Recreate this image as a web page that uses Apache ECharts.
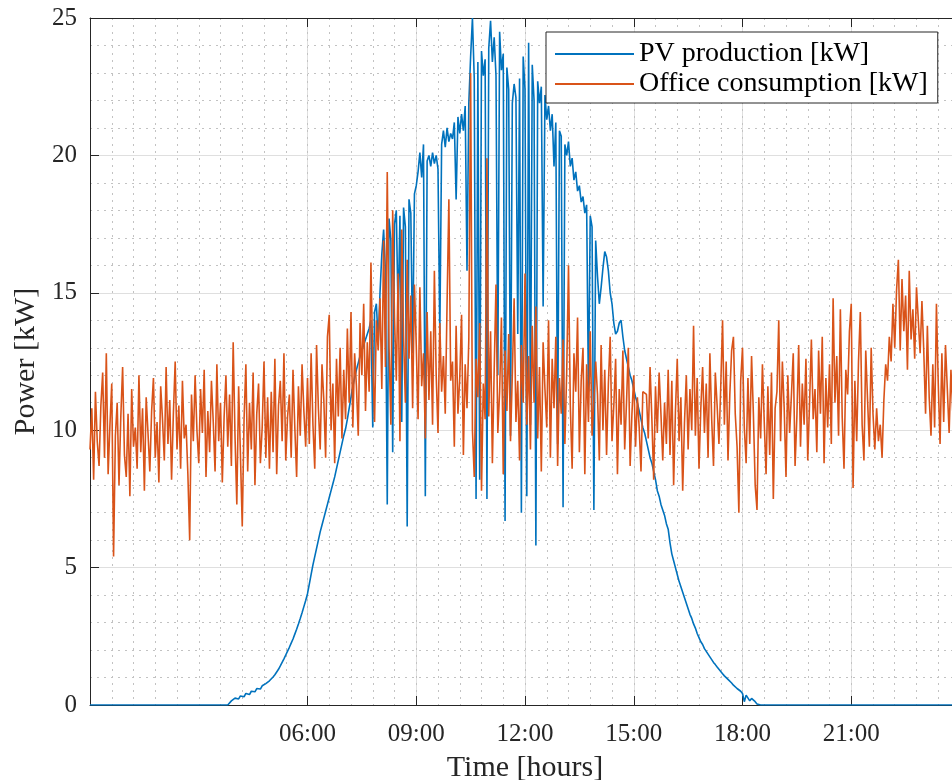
<!DOCTYPE html>
<html><head><meta charset="utf-8">
<script src="https://cdn.jsdelivr.net/npm/echarts@6/dist/echarts.min.js"></script>
<style>html,body{margin:0;padding:0;background:#fff}#c{width:952px;height:780px}</style>
</head><body><div id="c"></div>
<script>
// sampling step of both series (minutes from 00:00)
const stepMinutes = 3;

// PV production [kW], one value per 3 minutes, 00:00 .. 23:57 (20 values per hour row)
const pvProduction = [
  0,0,0,0,0,0,0,0,0,0,0,0,0,0,0,0,0,0,0,0,
  0,0,0,0,0,0,0,0,0,0,0,0,0,0,0,0,0,0,0,0,
  0,0,0,0,0,0,0,0,0,0,0,0,0,0,0,0,0,0,0,0,
  0,0,0,0,0,0,0,0,0,0,0,0,0,0,0,0,0,0,0.15,0.2,
  0.25,0.28,0.22,0.33,0.36,0.3,0.42,0.45,0.38,0.5,0.55,0.48,0.6,0.64,0.58,0.7,0.74,0.78,0.82,0.88,
  0.95,1.02,1.1,1.2,1.3,1.42,1.55,1.68,1.82,1.96,2.1,2.25,2.4,2.58,2.76,2.95,3.15,3.36,3.58,3.8,
  4.05,4.4,4.75,5.1,5.4,5.7,6.0,6.3,6.55,6.8,7.05,7.3,7.55,7.8,8.05,8.3,8.6,8.9,9.2,9.5,
  9.8,10.05,10.4,10.8,11.2,11.6,11.9,12.2,12.45,12.7,12.9,13.1,13.3,13.5,13.7,14.0,10.1,14.3,14.6,13.2,
  15.0,16.4,17.3,15.8,7.3,17.7,16.9,9.2,17.5,18.0,14.2,17.8,10.3,18.1,17.4,6.5,18.4,17.9,12.8,18.6,
  18.9,19.4,20.1,19.2,20.4,7.6,19.8,20.0,19.6,20.1,19.7,20.0,19.5,13.5,20.4,20.9,20.3,21.0,20.5,20.8,
  20.6,21.2,18.4,21.4,20.8,21.5,20.9,21.8,15.8,21.9,23.6,25.0,22.8,7.5,23.4,8.2,23.8,22.9,23.5,7.5,
  23.9,24.9,23.4,24.3,22.9,12.0,24.5,23.1,23.7,6.7,23.2,22.4,9.8,21.9,22.6,22.1,13.5,22.8,7.0,23.6,
  22.4,7.6,24.1,10.2,23.3,22.0,5.8,22.7,21.9,22.5,14.5,22.2,21.3,21.8,20.9,21.5,19.6,21.2,9.5,20.9,
  20.7,7.2,20.4,20.0,20.5,19.6,19.9,19.1,19.4,18.7,18.9,18.3,18.5,17.9,18.2,11.4,17.8,17.4,7.1,16.9,
  15.6,14.6,15.2,15.9,16.5,16.3,15.8,15.0,14.6,13.9,13.5,13.6,13.9,14.0,13.4,12.9,12.6,12.3,12.0,11.8,
  11.5,11.2,11.0,10.7,10.4,10.1,9.9,9.6,9.3,9.0,8.8,8.5,8.2,7.8,7.6,7.3,7.1,6.9,6.6,6.4,
  5.9,5.5,5.25,5.0,4.75,4.5,4.3,4.1,3.9,3.7,3.5,3.3,3.15,2.95,2.8,2.6,2.45,2.3,2.2,2.05,
  1.95,1.85,1.75,1.65,1.55,1.47,1.38,1.3,1.22,1.14,1.06,1.0,0.93,0.86,0.8,0.72,0.66,0.6,0.55,0.5,
  0.42,0.12,0.36,0.3,0.15,0.24,0.18,0.12,0.04,0,0,0,0,0,0,0,0,0,0,0,
  0,0,0,0,0,0,0,0,0,0,0,0,0,0,0,0,0,0,0,0,
  0,0,0,0,0,0,0,0,0,0,0,0,0,0,0,0,0,0,0,0,
  0,0,0,0,0,0,0,0,0,0,0,0,0,0,0,0,0,0,0,0,
  0,0,0,0,0,0,0,0,0,0,0,0,0,0,0,0,0,0,0,0,
  0,0,0,0,0,0,0,0,0,0,0,0,0,0,0,0,0,0,0,0
];

// Office consumption [kW], one value per 3 minutes, 00:00 .. 23:57 (20 values per hour row)
const officeConsumption = [
  9.3,10.8,8.2,11.4,9.6,8.7,10.9,12.1,9.0,12.8,8.4,10.2,11.7,5.4,9.8,11.0,8.0,10.5,12.3,9.1,
  8.3,10.6,7.6,11.5,9.4,10.1,8.6,12.0,9.2,10.8,7.8,11.2,9.9,8.5,10.7,11.9,9.0,10.3,8.1,11.6,
  10.4,8.9,12.3,9.5,11.1,8.2,10.6,12.5,9.3,10.9,8.6,11.8,9.7,10.2,8.4,6.0,11.3,9.6,12.0,10.0,
  8.8,11.5,9.9,12.2,8.3,10.7,9.2,11.8,10.3,8.5,12.4,9.6,11.0,8.1,10.5,12.0,9.4,11.3,8.7,13.2,
  9.8,7.3,11.6,9.1,6.5,10.4,12.4,8.5,11.0,9.3,12.1,8.0,10.6,11.7,8.8,10.1,12.5,9.0,11.2,8.6,
  11.4,9.2,12.6,8.4,10.9,11.8,9.6,12.8,8.9,10.5,11.3,9.0,12.2,10.1,8.3,11.6,9.8,12.4,10.7,9.4,
  11.9,9.5,12.8,10.2,8.6,13.1,10.8,9.3,12.4,11.1,9.0,13.4,14.2,10.0,11.7,8.8,12.6,10.5,13.0,9.7,
  12.2,10.4,13.7,11.0,14.3,10.1,12.8,11.6,9.8,13.9,12.0,14.6,10.7,13.2,11.4,16.1,12.5,10.3,14.0,12.9,
  14.8,11.5,16.9,12.3,19.4,13.0,10.2,18.0,14.1,11.8,15.7,9.6,17.3,13.4,11.0,16.2,12.6,14.9,10.8,15.3,
  13.1,10.4,15.2,11.6,12.8,9.7,14.3,11.1,13.6,10.2,15.8,12.0,9.9,13.9,11.4,12.7,10.6,14.6,18.4,11.8,
  12.5,9.4,13.8,10.6,11.9,14.2,9.1,12.4,10.8,13.3,23.0,10.0,8.3,12.6,11.2,13.9,7.8,11.7,10.4,19.9,
  10.5,13.6,8.8,12.2,15.3,9.9,11.4,14.1,8.4,12.9,10.7,13.5,9.6,12.0,14.8,10.3,11.8,8.9,13.1,11.0,
  15.7,10.2,12.7,9.3,13.8,11.0,14.5,9.7,12.3,8.5,13.2,11.5,10.1,14.0,9.0,12.6,10.8,13.4,8.7,11.9,
  10.6,13.3,9.5,12.1,16.0,10.9,8.6,12.8,11.4,14.1,9.2,11.8,13.0,8.4,12.4,10.3,13.6,9.8,11.1,12.5,
  11.3,8.9,13.1,10.0,12.2,9.1,11.7,13.4,9.6,10.9,12.6,8.4,11.5,10.2,12.9,9.3,11.0,13.0,8.7,10.6,
  12.0,9.4,11.2,10.1,8.5,11.4,11.4,11.3,9.7,12.3,10.4,8.2,11.6,9.9,12.1,10.6,8.9,11.0,9.5,12.2,
  9.1,11.8,8.0,10.7,12.6,9.6,11.2,7.8,10.3,12.0,9.3,11.5,10.0,13.8,9.8,11.9,8.6,10.8,12.3,9.9,
  11.7,9.0,12.8,10.4,8.7,12.1,10.9,9.5,11.6,14.0,10.2,12.5,8.9,11.3,12.9,13.4,10.6,9.4,7.0,11.8,
  13.0,10.1,8.8,11.9,9.5,12.7,10.6,8.0,7.1,11.2,9.7,12.4,10.3,8.4,11.6,9.1,12.1,7.5,10.8,11.4,
  14.0,9.6,12.5,10.8,8.3,12.0,9.9,11.3,12.8,8.7,10.5,13.1,9.4,11.7,10.2,12.6,8.9,11.0,13.3,10.4,
  11.5,9.2,12.9,10.6,13.4,8.8,11.9,10.1,12.4,9.5,14.8,11.0,12.7,9.8,14.4,10.5,8.6,12.2,11.3,13.6,
  14.6,7.9,11.8,9.6,12.5,14.3,10.2,8.9,12.9,11.1,9.4,13.0,10.6,9.3,10.8,9.6,10.2,9.0,11.1,12.4,
  11.8,13.4,12.5,14.6,13.0,15.1,16.2,12.9,15.5,13.6,14.9,12.2,15.8,13.3,14.4,12.6,15.2,14.0,12.8,14.7,
  12.9,10.6,13.8,11.2,9.8,12.4,10.1,14.6,11.7,9.5,12.8,10.3,13.1,11.5,9.9,12.2,10.7,11.9,9.6,10.9
];

const seriesNames = ['PV production [kW]', 'Office consumption [kW]'];
const xTickHours = [6, 9, 12, 15, 18, 21];
const xTickLabels = ['06:00', '09:00', '12:00', '15:00', '18:00', '21:00'];
const yTicks = [0, 5, 10, 15, 20, 25];

const serif = '"Liberation Serif", "DejaVu Serif", serif';
const axisColor = '#262626';
const majorGrid = '#dfdfdf';
const minorGrid = '#c2c2c2';

const toPoints = arr => arr.map((v, i) => [i * stepMinutes / 60, v]);

const chart = echarts.init(document.getElementById('c'), null, {renderer: 'canvas'});
chart.setOption({
  animation: false,
  backgroundColor: '#fff',
  grid: {left: 90, right: -8, top: 18, bottom: 75, containLabel: false, outerBoundsMode: 'none'},
  legend: {
    left: 546, top: 32, orient: 'vertical',
    backgroundColor: '#fff', borderColor: axisColor, borderWidth: 1, borderRadius: 0,
    padding: [8, 10, 5, 9], itemGap: 2, itemWidth: 79, itemHeight: 2, icon: 'rect',
    textStyle: {fontFamily: serif, fontSize: 28, lineHeight: 28, color: '#000'},
    data: seriesNames
  },
  xAxis: [
    {
      type: 'value', min: 0, max: 24, position: 'bottom',
      axisLine: {show: true, lineStyle: {color: axisColor, width: 1}},
      axisTick: {show: true, inside: true, length: 9, customValues: xTickHours, lineStyle: {color: axisColor}},
      axisLabel: {
        customValues: xTickHours, margin: 17,
        fontFamily: serif, fontSize: 25, color: axisColor,
        formatter: v => xTickLabels[xTickHours.indexOf(v)] || ''
      },
      splitLine: {show: true, lineStyle: {color: majorGrid, width: 1}},
      name: 'Time [hours]', nameLocation: 'middle', nameGap: 48,
      nameTextStyle: {fontFamily: serif, fontSize: 30, color: axisColor}
    },
    {
      type: 'value', min: 0, max: 24, interval: 0.6, position: 'bottom',
      axisLine: {show: false}, axisTick: {show: false}, axisLabel: {show: false},
      splitLine: {show: true, lineStyle: {color: minorGrid, width: 1, type: [2, 5]}}
    },
    {
      type: 'value', min: 0, max: 24, position: 'top',
      axisLine: {show: true, lineStyle: {color: axisColor, width: 1}},
      axisTick: {show: true, inside: true, length: 9, customValues: xTickHours, lineStyle: {color: axisColor}},
      axisLabel: {show: false}, splitLine: {show: false}
    }
  ],
  yAxis: [{
    type: 'value', min: yTicks[0], max: yTicks[yTicks.length - 1], interval: 5,
    axisLine: {show: true, lineStyle: {color: axisColor, width: 1}},
    axisTick: {show: true, inside: true, length: 9, lineStyle: {color: axisColor}},
    axisLabel: {margin: 13, fontFamily: serif, fontSize: 25, color: axisColor},
    splitLine: {show: true, lineStyle: {color: majorGrid, width: 1}},
    minorTick: {show: false, splitNumber: 5},
    minorSplitLine: {show: true, lineStyle: {color: minorGrid, width: 1, type: [2, 5]}},
    name: 'Power [kW]', nameLocation: 'middle', nameGap: 49, nameRotate: 90,
    nameTextStyle: {fontFamily: serif, fontSize: 30, color: axisColor}
  }],
  series: [
    {
      name: seriesNames[0], type: 'line', xAxisIndex: 0, yAxisIndex: 0,
      data: toPoints(pvProduction), symbol: 'none', showSymbol: false,
      lineStyle: {color: '#0072BD', width: 1.6}, itemStyle: {color: '#0072BD'}, z: 2
    },
    {
      name: seriesNames[1], type: 'line', xAxisIndex: 0, yAxisIndex: 0,
      data: toPoints(officeConsumption), symbol: 'none', showSymbol: false,
      lineStyle: {color: '#D95319', width: 1.6}, itemStyle: {color: '#D95319'}, z: 3
    }
  ]
});
</script>
</body></html>
